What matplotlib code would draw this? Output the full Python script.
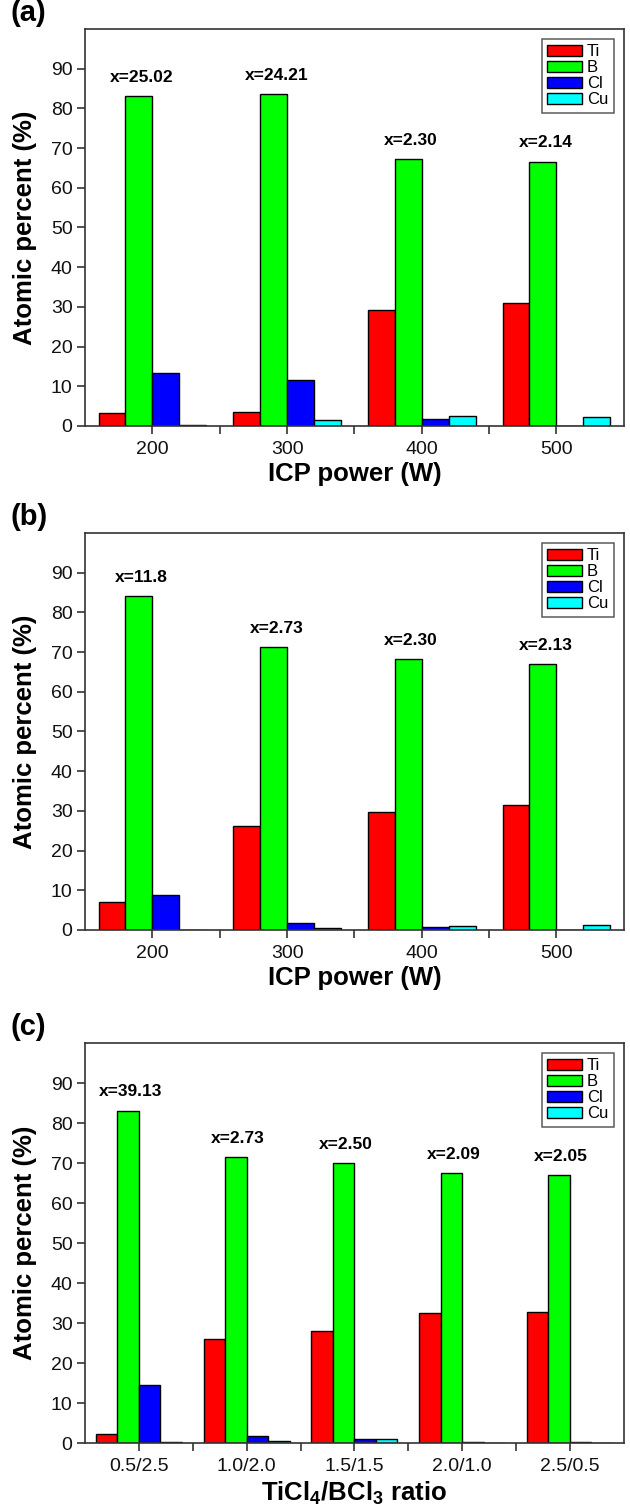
import matplotlib.pyplot as plt
import numpy as np

plt.rcParams['font.family'] = ['Liberation Sans', 'DejaVu Sans']
plt.rcParams['mathtext.fontset'] = 'custom'
plt.rcParams['mathtext.rm'] = 'Liberation Sans'
plt.rcParams['mathtext.bf'] = 'Liberation Sans:bold'

elements = ['Ti', 'B', 'Cl', 'Cu']
colors = ['#ff0000', '#00ff00', '#0000ff', '#00ffff']

# (a) ICP power series
power_a = ['200', '300', '400', '500']
ti_a = [3.3, 3.5, 29.2, 31.0]
b_a = [83.0, 83.5, 67.2, 66.6]
cl_a = [13.4, 11.5, 1.8, 0.1]
cu_a = [0.2, 1.5, 2.5, 2.3]
xlab_a = ['x=25.02', 'x=24.21', 'x=2.30', 'x=2.14']

# (b) ICP power series
power_b = ['200', '300', '400', '500']
ti_b = [7.0, 26.1, 29.8, 31.6]
b_b = [84.1, 71.3, 68.2, 67.0]
cl_b = [8.7, 1.7, 0.7, 0.1]
cu_b = [0.1, 0.6, 1.1, 1.3]
xlab_b = ['x=11.8', 'x=2.73', 'x=2.30', 'x=2.13']

# (c) TiCl4/BCl3 ratio series
ratio_c = ['0.5/2.5', '1.0/2.0', '1.5/1.5', '2.0/1.0', '2.5/0.5']
ti_c = [2.2, 26.1, 28.1, 32.4, 32.8]
b_c = [83.1, 71.4, 70.0, 67.4, 67.0]
cl_c = [14.5, 1.7, 1.0, 0.2, 0.2]
cu_c = [0.3, 0.6, 1.0, 0.1, 0.1]
xlab_c = ['x=39.13', 'x=2.73', 'x=2.50', 'x=2.09', 'x=2.05']


def panel(ax, cats, series, xlabs, xlabel, tag, xpad):
    n = len(cats)
    x = np.arange(n)
    w = 0.2
    for i, (vals, c, name) in enumerate(zip(series, colors, elements)):
        ax.bar(x + (i - 1.5) * w, vals, w, color=c, edgecolor='black',
               linewidth=1.0, label=name)
    for xi, b, s in zip(x, series[1], xlabs):
        ax.text(xi - 0.08, b + 4.7, s, ha='center', va='center',
                fontsize=12.5, fontweight='bold')
    ax.set_xlim(-0.5, n - 0.5)
    ax.set_ylim(0, 100)
    ax.set_yticks(np.arange(0, 91, 10))
    ax.set_xticks(x)
    ax.set_xticks(np.arange(0.5, n - 1, 1), minor=True)
    ax.set_xticklabels(cats)
    ax.tick_params(axis='both', which='both', direction='out', labelsize=14,
                   length=6, width=1.1, colors='#222222', labelcolor='#111111',
                   pad=3)
    ax.tick_params(axis='x', pad=5)
    ax.tick_params(top=False, right=False)
    for sp in ax.spines.values():
        sp.set_linewidth(1.2)
        sp.set_color('#333333')
    ax.set_ylabel('Atomic percent (%)', fontsize=18.5, fontweight='bold',
                  labelpad=10)
    ax.set_xlabel(xlabel, fontsize=18.5, fontweight='bold', labelpad=xpad)
    leg = ax.legend(loc='upper right', fontsize=12, frameon=True,
                    fancybox=False, edgecolor='#333333', handlelength=2.1,
                    handleheight=0.72, labelspacing=0.06, handletextpad=0.3,
                    borderpad=0.32, borderaxespad=0.6)
    leg.get_frame().set_linewidth(1.1)
    ax.text(-0.139, 1.04, tag, transform=ax.transAxes, fontsize=21,
            fontweight='bold', va='center', ha='left')


fig = plt.figure(figsize=(6.3, 15.09), dpi=100)
ax_a = fig.add_axes([0.135, 0.7177, 0.855, 0.2631])
ax_b = fig.add_axes([0.135, 0.3837, 0.855, 0.2631])
ax_c = fig.add_axes([0.135, 0.0437, 0.855, 0.2651])

panel(ax_a, power_a, [ti_a, b_a, cl_a, cu_a], xlab_a, 'ICP power (W)', '(a)', 3)
panel(ax_b, power_b, [ti_b, b_b, cl_b, cu_b], xlab_b, 'ICP power (W)', '(b)', 3)
panel(ax_c, ratio_c, [ti_c, b_c, cl_c, cu_c], xlab_c,
      r'TiCl$_\mathbf{4}$/BCl$_\mathbf{3}$ ratio', '(c)', 3)

fig.savefig('out.png', dpi=100)
